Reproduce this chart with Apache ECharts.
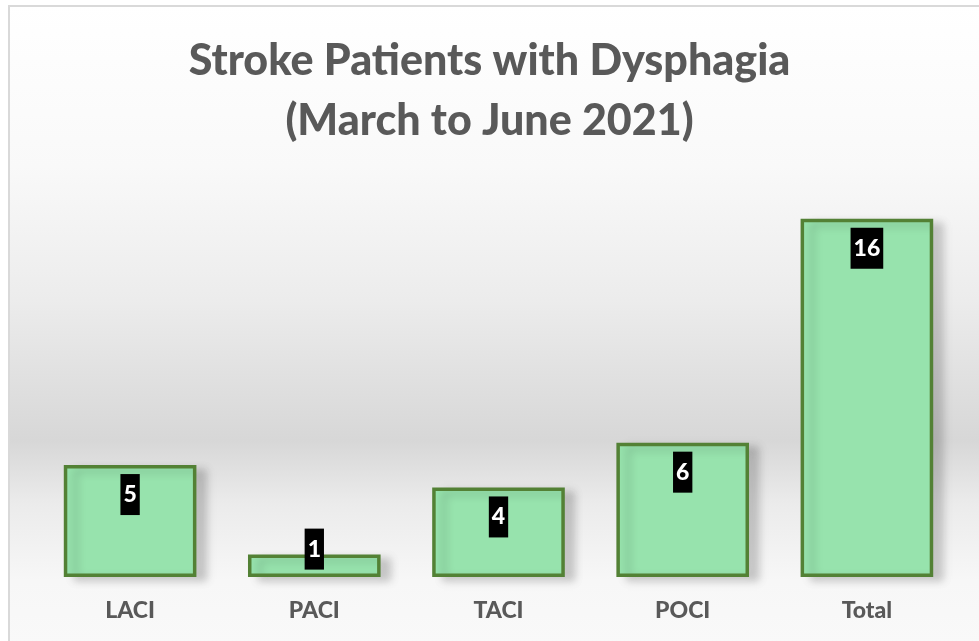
<!DOCTYPE html>
<html>
<head>
<meta charset="utf-8">
<script src="https://cdn.jsdelivr.net/npm/echarts@6/dist/echarts.min.js"></script>
<style>
  html, body { margin: 0; padding: 0; background: #ffffff; }
  #chart { width: 979px; height: 641px; }
</style>
</head>
<body>
<div id="chart"></div>
<script>
  // Data
  var categories = ['LACI', 'PACI', 'TACI', 'POCI', 'Total'];
  var patients = [5, 1, 4, 6, 16];
  var titleLines = ['Stroke Patients with Dysphagia', '(March to June 2021)'];

  var dom = document.getElementById('chart');
  var chart = echarts.init(dom, null, {renderer: 'canvas'});

  // Small bars get their label lifted above the top edge, like Excel does
  var barData = patients.map(function (v) {
    if (v < 2) {
      return { value: v, label: { position: 'top', distance: -15 } };
    }
    return v;
  });

  var option = {
    animation: false,
    graphic: [{
      type: 'rect',
      z: -10,
      shape: { x: 9, y: 6, width: 1000, height: 700 },
      style: {
        fill: new echarts.graphic.LinearGradient(0, 0, 0, 1, [
          { offset: 0, color: '#ffffff' },
          { offset: 0.23, color: '#f9f9f9' },
          { offset: 0.42, color: '#ececec' },
          { offset: 0.62, color: '#d7d7d7' },
          { offset: 0.71, color: '#ebebeb' },
          { offset: 0.82, color: '#f7f7f7' },
          { offset: 1, color: '#fbfbfb' }
        ]),
        stroke: '#d9d9d9',
        lineWidth: 2
      },
      silent: true
    }],
    title: {
      text: titleLines.join('\n'),
      left: 'center',
      top: 26,
      textStyle: {
        fontFamily: 'Lato',
        fontWeight: 900,
        fontSize: 43,
        lineHeight: 60,
        color: '#595959'
      }
    },
    grid: { left: 38, right: 20, top: 174, bottom: 64 },
    xAxis: {
      type: 'category',
      data: categories,
      axisLine: { show: false },
      axisTick: { show: false },
      axisLabel: {
        margin: 22,
        fontFamily: 'Lato',
        fontWeight: 900,
        fontSize: 23,
        color: '#595959'
      }
    },
    yAxis: {
      type: 'value',
      min: 0,
      max: 18,
      show: false,
      splitLine: { show: false }
    },
    series: [{
      type: 'bar',
      data: barData,
      barCategoryGap: '28%',
      itemStyle: {
        color: '#97e3ad',
        borderColor: '#538135',
        borderWidth: 3.5,
        shadowColor: 'rgba(0,0,0,0.18)',
        shadowBlur: 8,
        shadowOffsetX: 10,
        shadowOffsetY: 4
      },
      label: {
        show: true,
        position: 'insideTop',
        distance: 9,
        backgroundColor: '#000000',
        padding: [8, 3],
        fontFamily: 'Lato',
        fontWeight: 900,
        fontSize: 23,
        lineHeight: 25,
        color: '#ffffff'
      }
    }]
  };

  chart.setOption(option);
</script>
</body>
</html>
